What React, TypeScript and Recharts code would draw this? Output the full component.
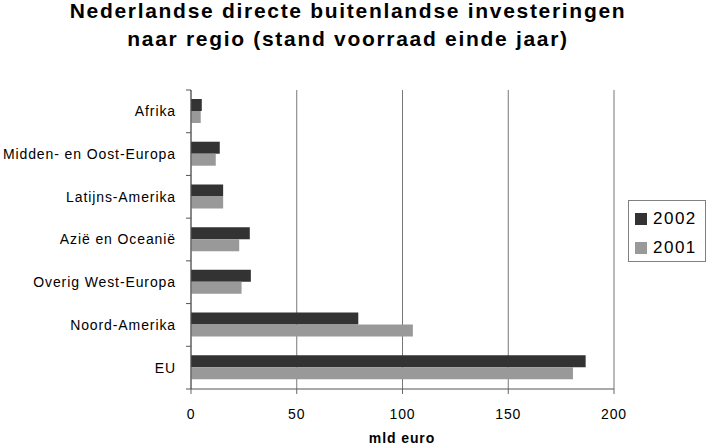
import React from 'react';
import { BarChart, Bar, XAxis, YAxis, CartesianGrid, Legend } from 'recharts';

const titleLines = [
  'Nederlandse directe buitenlandse investeringen',
  'naar regio (stand voorraad einde jaar)',
];
const categories = [
  'Afrika',
  'Midden- en Oost-Europa',
  'Latijns-Amerika',
  'Azië en Oceanië',
  'Overig West-Europa',
  'Noord-Amerika',
  'EU',
];
const values2002 = [5.1, 13.6, 15.2, 27.8, 28.3, 79.1, 186.6];
const values2001 = [4.6, 11.7, 15.2, 22.8, 23.9, 104.9, 180.6];
const seriesNames = ['2002', '2001'];
const seriesColors = ['#333333', '#999999'];
const xTicks = [0, 50, 100, 150, 200];
const xAxisTitle = 'mld euro';

const data = categories.map((c, i) => ({
  name: c,
  [seriesNames[0]]: values2002[i],
  [seriesNames[1]]: values2001[i],
}));

const FONT = '"Liberation Sans", Arial, Helvetica, sans-serif';
const CAT_TICK_SIZE = 5;
const CAT_TICK_MARGIN = 10;

const LegendBox = (props: any) => {
  const payload = [...(props.payload || [])].sort(
    (a: any, b: any) => seriesNames.indexOf(String(a.value)) - seriesNames.indexOf(String(b.value))
  );
  return (
    <div
      style={{
        width: 78,
        height: 62,
        border: '1px solid #808080',
        boxSizing: 'border-box',
        position: 'relative',
        background: '#fff',
      }}
    >
      {payload.map((p: any, i: number) => (
        <div
          key={p.value}
          style={{
            position: 'absolute',
            left: 6,
            top: 10 + i * 29,
            height: 16,
            display: 'flex',
            alignItems: 'center',
          }}
        >
          <div style={{ width: 12, height: 12, background: p.color, marginRight: 6 }} />
          <span
            style={{
              fontFamily: FONT,
              fontSize: 17,
              lineHeight: '16px',
              letterSpacing: 1.5,
              color: '#000',
            }}
          >
            {p.value}
          </span>
        </div>
      ))}
    </div>
  );
};

const CatTick = (props: any) => {
  const { x, y, payload, index, visibleTicksCount, height } = props;
  const nx = Number(x);
  const ny = Number(y);
  let off = payload && Number(payload.offset) > 0 ? Number(payload.offset) : 0;
  if (!off && Number(height) > 0 && visibleTicksCount) {
    off = Number(height) / visibleTicksCount / 2;
  }
  const lx = nx + CAT_TICK_MARGIN;
  return (
    <g>
      <path
        d={`M${lx},${ny - off}H${lx + CAT_TICK_SIZE}`}
        stroke="#555"
        strokeWidth={1}
        fill="none"
      />
      {index === visibleTicksCount - 1 && (
        <path
          d={`M${lx},${ny + off}H${lx + CAT_TICK_SIZE}`}
          stroke="#555"
          strokeWidth={1}
          fill="none"
        />
      )}
      <text
        x={nx}
        y={ny}
        dy="0.355em"
        textAnchor="end"
        fontFamily={FONT}
        fontSize={14}
        letterSpacing={0.9}
        fill="#000"
      >
        {payload.value}
      </text>
    </g>
  );
};

export default function App() {
  return (
    <div style={{ position: 'absolute', left: 0, top: 0, width: 706, height: 447, background: '#fff' }}>
      <div
        style={{
          position: 'absolute',
          left: 0,
          top: -3,
          width: 696,
          textAlign: 'center',
          fontFamily: FONT,
          fontWeight: 'bold',
          fontSize: 21,
          lineHeight: '28px',
          letterSpacing: 1.7,
          color: '#000',
        }}
      >
        {titleLines.map((t) => (
          <div key={t}>{t}</div>
        ))}
      </div>
      <BarChart
        width={706}
        height={447}
        data={data}
        layout="vertical"
        margin={{ top: 90, right: 92, bottom: 28, left: 0 }}
        barGap={0}
        style={{ position: 'absolute', left: 0, top: 0 }}
      >
        <CartesianGrid horizontal={false} vertical={true} stroke="#777" />
        <YAxis
          yAxisId="cat"
          type="category"
          dataKey="name"
          width={191}
          tickLine={false}
          axisLine={{ stroke: '#555' }}
          tickSize={CAT_TICK_SIZE}
          tickMargin={CAT_TICK_MARGIN}
          interval={0}
          tick={CatTick}
        />
        <YAxis
          yAxisId="right"
          orientation="right"
          type="number"
          domain={[0, 7]}
          width={0}
          tick={false}
          tickLine={false}
          axisLine={{ stroke: '#999' }}
          allowDataOverflow
        />
        <XAxis
          xAxisId="top"
          orientation="top"
          type="number"
          domain={[0, 200]}
          height={0}
          tick={false}
          tickLine={false}
          axisLine={{ stroke: '#888' }}
          allowDataOverflow
        />
        <XAxis
          type="number"
          domain={[0, 200]}
          ticks={xTicks}
          height={30}
          tickSize={5}
          tickMargin={15}
          tickLine={{ stroke: '#666' }}
          axisLine={{ stroke: '#555' }}
          tick={{ fontFamily: FONT, fontSize: 14, letterSpacing: 0.9, fill: '#000' }}
          allowDataOverflow
        />
        <Legend
          layout="horizontal"
          align="center"
          verticalAlign="middle"
          wrapperStyle={{ left: 628, top: 200, width: 78, height: 62 }}
          content={<LegendBox />}
        />
        {seriesNames.map((s, i) => (
          <Bar
            key={s}
            yAxisId="cat"
            dataKey={s}
            name={s}
            fill={seriesColors[i]}
            barSize={12}
            isAnimationActive={false}
          />
        ))}
      </BarChart>
      <div
        style={{
          position: 'absolute',
          left: 302,
          width: 200,
          top: 430,
          textAlign: 'center',
          fontFamily: FONT,
          fontWeight: 'bold',
          fontSize: 14,
          lineHeight: '16px',
          letterSpacing: 0.9,
          color: '#000',
        }}
      >
        {xAxisTitle}
      </div>
    </div>
  );
}
